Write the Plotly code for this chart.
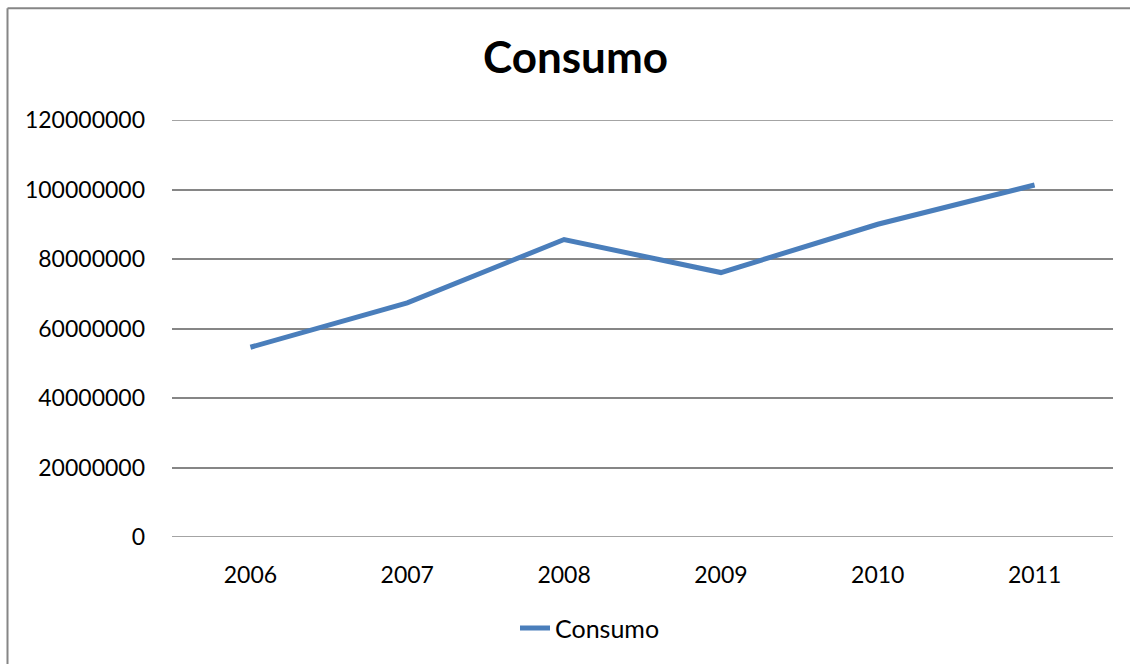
import plotly.graph_objects as go

years = ["2006", "2007", "2008", "2009", "2010", "2011"]
consumo = [54600000, 67400000, 85600000, 76100000, 90000000, 101300000]
y_ticks = [0, 20000000, 40000000, 60000000, 80000000, 100000000, 120000000]
y_labels = [str(v) for v in y_ticks]

FONT = "Lato"
GRID = "#868686"

fig = go.Figure()
fig.add_trace(go.Scatter(
    x=years, y=consumo, mode="lines", name="Consumo",
    line=dict(color="#4A7EBB", width=5),
))

L, R, T, B = 172, 17, 119.5, 126.5
W, H = 1130, 664
pw, ph = W - L - R, H - T - B

def px_x(p):
    return (p - L) / pw

def px_y(p):
    return (H - B - p) / ph

fig.update_layout(
    width=W, height=H,
    margin=dict(l=L, r=R, t=T, b=B),
    paper_bgcolor="white", plot_bgcolor="white",
    font=dict(family=FONT, size=23, color="black"),
    title=dict(text="<b>Consumo</b>", font=dict(family=FONT, size=44, color="black"),
               x=575.5 / W, xref="container", xanchor="center",
               y=1 - 58 / H, yref="container", yanchor="middle"),
    showlegend=True,
    legend=dict(orientation="h", x=px_x(515), xanchor="left",
                y=px_y(629), yanchor="middle", font=dict(family=FONT, size=25),
                bgcolor="rgba(0,0,0,0)"),
    xaxis=dict(type="category", range=[-0.5, 5.5], showgrid=False, zeroline=False,
               showline=False, ticks="", ticklabelstandoff=22,
               tickfont=dict(family=FONT, size=23)),
    yaxis=dict(range=[0, 120000000], tickvals=y_ticks, ticktext=y_labels,
               showgrid=True, gridcolor=GRID, gridwidth=1.5, zeroline=False,
               showline=False, ticks="", ticklabelstandoff=26,
               tickfont=dict(family=FONT, size=23)),
    shapes=[
        dict(type="line", xref="paper", yref="paper",
             x0=px_x(7.5), x1=px_x(1200), y0=px_y(7.5), y1=px_y(7.5),
             line=dict(color=GRID, width=2)),
        dict(type="line", xref="paper", yref="paper",
             x0=px_x(7.5), x1=px_x(7.5), y0=px_y(7.5), y1=px_y(720),
             line=dict(color=GRID, width=2)),
        dict(type="line", xref="paper", yref="y",
             x0=0, x1=1, y0=0, y1=0, layer="below",
             line=dict(color=GRID, width=1.5)),
        dict(type="line", xref="paper", yref="y",
             x0=0, x1=1, y0=120000000, y1=120000000, layer="below",
             line=dict(color=GRID, width=1.5)),
    ],
)

fig.write_html("out.html", config={"displayModeBar": False},
               post_script="document.body.style.margin='0';")
